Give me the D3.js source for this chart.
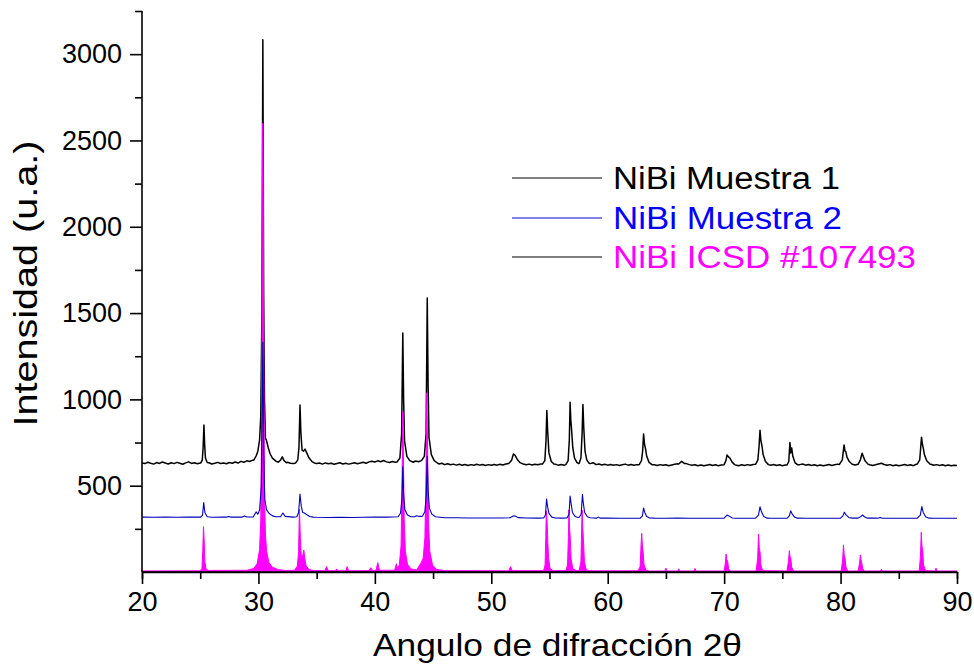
<!DOCTYPE html>
<html><head><meta charset="utf-8">
<script src="https://cdn.jsdelivr.net/npm/d3@7"></script>
<style>
body{margin:0;background:#fff}
svg{display:block}
text{font-family:"Liberation Sans",Arial,Helvetica,sans-serif}
</style>
</head><body><svg id="c" width="974" height="666"></svg>
<script>
// ---------------- DATA ----------------
const xTicks = [20,30,40,50,60,70,80,90];
const xMinor = [25,35,45,55,65,75,85];
const yTicks = [500,1000,1500,2000,2500,3000];
const yMinor = [250,750,1250,1750,2250,2750,3250];
const xLabel = "Angulo de difracción 2θ";
const yLabel = "Intensidad (u.a.)";
const seriesNames = ["NiBi Muestra 1","NiBi Muestra 2","NiBi ICSD #107493"];
const seriesColors = ["#000000","#0000ff","#ff00ff"];
const legendLineColors = ["#000000","#0000cc","#000000"];

// Muestra 1: background read every 0.25° from 20° to 90°
const m1Start = 20, m1Step = 0.25;
const m1Base = [
632,628,636,630,625,634,629,637,631,626,633,628,635,630,624,632,638,629,633,627,
631,636,628,633,626,630,635,629,632,627,634,630,637,631,641,636,644,640,648,655,665,
700,700,720,678,660,645,640,650,655,636,630,628,640,700,720,705,670,645,634,628,
631,625,632,627,630,624,629,633,626,630,625,629,633,627,631,636,630,638,642,637,
644,639,646,638,634,640,636,650,700,700,660,640,636,643,639,655,700,700,680,640,
630,626,630,622,627,621,625,619,624,618,623,617,622,618,624,619,623,617,622,618,
623,619,624,620,626,632,650,685,660,635,626,621,625,620,624,621,626,640,900,680,
633,624,619,623,618,635,950,760,640,630,700,900,650,628,633,622,626,620,624,619,
623,618,622,617,621,625,619,623,618,622,630,700,760,640,626,621,617,622,618,621,
616,620,624,627,633,636,628,622,618,621,616,620,615,619,623,617,621,616,620,624,
660,665,632,620,616,621,617,622,618,623,630,760,740,640,624,619,623,617,621,616,
620,628,740,700,632,622,626,619,623,617,621,616,620,615,619,623,617,621,625,630,
700,690,640,625,620,624,660,670,630,621,617,621,626,630,623,618,622,616,620,615,
619,623,617,621,616,624,640,760,700,640,624,618,622,617,621,616,620,615,619,617
];
// Muestra 1: peak profiles [2θ, intensity]
const m1Peaks = [
 [[25.05,632],[25.18,650],[25.25,720],[25.32,852],[25.38,740],[25.45,660],[25.6,634]],
 [[29.6,648],[29.8,672],[29.95,700],[30.1,765],[30.2,900],[30.3,1500],[30.38,3084],[30.45,1600],[30.52,1000],[30.6,777],[30.7,760],[30.85,719],[31.0,685],[31.2,660],[31.5,642],[31.7,636],[31.9,648],[32.05,667],[32.2,645],[32.4,633]],
 [[33.2,632],[33.38,650],[33.48,720],[33.57,968],[33.65,800],[33.75,705],[33.88,700],[34.0,712],[34.15,690],[34.35,660],[34.6,640],[34.8,632]],
 [[41.9,637],[42.15,660],[42.3,800],[42.4,1385],[42.47,1000],[42.55,760],[42.75,670],[43.0,645],[43.3,636]],
 [[44.0,645],[44.25,670],[44.4,800],[44.5,1588],[44.57,1100],[44.65,780],[44.85,680],[45.1,645],[45.4,630]],
 [[51.5,628],[51.75,648],[51.9,684],[52.05,676],[52.25,650],[52.5,632]],
 [[54.4,626],[54.6,645],[54.7,760],[54.77,935],[54.84,820],[54.95,690],[55.15,640],[55.4,625]],
 [[56.4,622],[56.6,645],[56.7,760],[56.77,983],[56.83,880],[56.9,823],[57.0,720],[57.15,660],[57.35,635],[57.5,628]],
 [[57.55,630],[57.7,660],[57.8,800],[57.87,970],[57.94,840],[58.05,700],[58.2,650],[58.4,630]],
 [[62.7,622],[62.9,645],[63.0,700],[63.08,800],[63.16,740],[63.25,713],[63.35,670],[63.55,635],[63.8,622]],
 [[66.1,626],[66.35,641],[66.6,628]],
 [[70.0,622],[70.15,645],[70.25,678],[70.35,668],[70.5,660],[70.7,635],[70.9,622]],
 [[72.7,624],[72.9,650],[73.0,730],[73.08,821],[73.16,760],[73.25,730],[73.35,680],[73.55,640],[73.8,622]],
 [[75.4,620],[75.55,640],[75.65,750],[75.72,690],[75.8,719],[75.9,670],[76.1,632],[76.3,622]],
 [[79.9,623],[80.15,650],[80.3,736],[80.38,700],[80.45,697],[80.55,665],[80.75,640],[81.0,624]],
 [[81.5,624],[81.7,650],[81.85,688],[81.95,670],[82.1,645],[82.35,625]],
 [[86.6,626],[86.8,650],[86.95,781],[87.03,740],[87.1,719],[87.2,680],[87.4,645],[87.7,624]]
];

// Muestra 2: background read every 1° from 20° to 90°
const m2Start = 20, m2Step = 1;
const m2Base = [
318,317,318,317,318,318,317,318,318,319,325,322,320,318,325,317,316,317,316,317,
318,318,322,318,322,316,314,314,313,313,313,313,318,313,312,318,312,320,320,312,
312,311,311,314,312,311,312,311,311,311,312,311,311,314,311,311,313,311,311,311,
312,312,312,312,311,311,311,313,311,311,311
];
const m2Peaks = [
 [[25.05,318],[25.2,330],[25.3,402],[25.4,345],[25.6,320]],
 [[27.3,318],[27.45,322],[27.6,318]],
 [[28.6,318],[28.8,325],[29.0,319]],
 [[29.55,319],[29.8,348],[29.95,335],[30.1,360],[30.25,500],[30.38,1330],[30.45,700],[30.55,420],[30.7,360],[30.9,340],[31.2,325],[31.5,320]],
 [[31.9,320],[32.1,342],[32.3,322]],
 [[33.3,320],[33.45,345],[33.57,452],[33.68,380],[33.8,345],[33.95,342],[34.1,335],[34.4,322],[34.7,318]],
 [[42.0,320],[42.2,340],[42.32,420],[42.4,610],[42.47,450],[42.58,360],[42.8,330],[43.1,320]],
 [[43.4,320],[43.6,326],[43.8,322]],
 [[44.1,325],[44.3,350],[44.42,450],[44.5,670],[44.57,480],[44.68,370],[44.9,335],[45.2,320]],
 [[51.6,314],[51.9,325],[52.05,324],[52.3,315]],
 [[54.5,313],[54.65,330],[54.75,423],[54.83,380],[54.95,340],[55.2,318],[55.5,313]],
 [[56.5,313],[56.68,335],[56.77,440],[56.85,400],[56.97,345],[57.2,322],[57.45,316]],
 [[57.55,317],[57.72,335],[57.83,450],[57.9,400],[58.02,345],[58.25,320],[58.5,314]],
 [[59.05,312],[59.2,318],[59.35,312]],
 [[62.8,312],[62.98,325],[63.08,371],[63.18,345],[63.35,322],[63.6,313]],
 [[70.0,312],[70.25,330],[70.4,325],[70.7,313]],
 [[72.7,312],[72.95,330],[73.08,378],[73.2,350],[73.4,322],[73.7,312]],
 [[75.4,311],[75.6,325],[75.72,354],[75.85,335],[76.05,318],[76.3,312]],
 [[80.0,312],[80.2,325],[80.33,346],[80.45,332],[80.7,316],[81.0,312]],
 [[81.5,312],[81.75,322],[81.88,330],[82.05,320],[82.3,312]],
 [[83.2,311],[83.4,316],[83.6,311]],
 [[86.6,312],[86.85,330],[86.98,379],[87.1,345],[87.3,320],[87.6,312]]
];

// ICSD #107493 reference pattern [2θ, intensity]
const icsd = [
 [20,6],[25.0,7],[25.15,20],[25.22,120],[25.28,263],[25.33,200],[25.4,60],[25.5,18],[25.7,9],
 [29.0,10],[29.6,20],[29.9,50],[30.1,130],[30.2,300],[30.28,900],[30.33,2000],[30.37,2600],[30.41,2300],[30.46,1200],[30.52,450],[30.6,220],[30.7,120],[30.9,55],[31.2,28],[31.7,14],[32.3,9],
 [33.1,10],[33.35,35],[33.45,120],[33.52,365],[33.6,200],[33.7,70],[33.82,100],[33.9,127],[33.98,80],[34.1,35],[34.35,14],[34.7,9],
 [35.7,8],[35.85,31],[36.0,8],[36.6,7],[36.72,18],[36.85,7],[37.5,7],[37.62,31],[37.75,7],
 [39.5,8],[39.65,25],[39.8,8],[40.1,10],[40.25,54],[40.4,10],[41.7,10],[41.85,48],[41.95,20],
 [42.1,40],[42.25,150],[42.33,500],[42.4,929],[42.45,700],[42.52,300],[42.62,120],[42.8,45],[43.1,18],[43.6,12],[43.85,40],[43.95,50],
 [44.15,80],[44.3,200],[44.4,600],[44.47,1038],[44.53,700],[44.6,300],[44.72,120],[44.95,40],[45.3,15],[46,8],
 [51.5,7],[51.65,31],[51.8,8],
 [54.5,8],[54.62,40],[54.68,200],[54.73,355],[54.79,300],[54.85,185],[54.92,80],[55.05,20],[55.3,8],
 [56.4,8],[56.55,40],[56.62,200],[56.67,360],[56.73,250],[56.78,197],[56.85,80],[57.0,20],[57.3,8],
 [57.55,9],[57.7,60],[57.76,250],[57.8,360],[57.86,250],[57.92,180],[58.0,60],[58.15,15],[58.4,7],
 [62.6,7],[62.78,30],[62.86,150],[62.92,224],[62.98,150],[63.04,118],[63.12,40],[63.3,10],[63.6,6],
 [64.9,6],[65.0,22],[65.1,6],[66.0,6],[66.1,18],[66.2,6],[67.4,6],[67.5,20],[67.6,6],
 [70.0,6],[70.1,50],[70.17,104],[70.23,70],[70.3,65],[70.38,20],[70.5,6],
 [72.75,6],[72.88,80],[72.95,220],[73.02,140],[73.08,118],[73.16,40],[73.3,8],
 [75.4,6],[75.52,60],[75.6,123],[75.66,90],[75.72,83],[75.8,30],[75.95,6],
 [80.05,6],[80.18,70],[80.25,157],[80.31,100],[80.38,83],[80.46,30],[80.6,6],
 [81.5,6],[81.63,50],[81.7,99],[81.76,70],[81.82,54],[81.9,20],[82.05,6],
 [83.4,6],[83.5,15],[83.6,6],
 [86.75,6],[86.86,90],[86.93,230],[86.99,150],[87.05,128],[87.13,40],[87.3,8],
 [88.1,6],[88.2,22],[88.3,6],[90,6]
];

// ---------------- BUILD ----------------
function merge(start, step, base, peaks){
  const pts = base.map((v,i)=>[start+i*step, v]);
  const ranges = peaks.map(p=>[p[0][0], p[p.length-1][0]]);
  const kept = pts.filter(p=>!ranges.some(r=>p[0]>=r[0]-1e-9 && p[0]<=r[1]+1e-9));
  return kept.concat(...peaks).sort((a,b)=>a[0]-b[0]);
}
const muestra1 = merge(m1Start, m1Step, m1Base, m1Peaks);
const muestra2 = merge(m2Start, m2Step, m2Base, m2Peaks);

const svg = d3.select("#c");
const L = 142, R = 957, T = 11, B = 572;
const x = d3.scaleLinear().domain([20,90]).range([L,R]);
const y = d3.scaleLinear().domain([0,3250]).range([B,T]);

const line = d3.line().x(d=>x(d[0])).y(d=>y(d[1]));
const area = d3.area().x(d=>x(d[0])).y0(y(0)).y1(d=>y(d[1]));

svg.append("path").datum(muestra1).attr("d", line)
  .attr("fill","none").attr("stroke",seriesColors[0]).attr("stroke-width",1.5).attr("stroke-linejoin","round");
svg.append("path").datum(icsd).attr("d", area)
  .attr("fill",seriesColors[2]).attr("stroke",seriesColors[2]).attr("stroke-width",1);
svg.append("path").datum(muestra2).attr("d", line)
  .attr("fill","none").attr("stroke","#0000bb").attr("stroke-width",1.1).attr("stroke-linejoin","round");

// axes
const gx = svg.append("g").attr("transform",`translate(0,${B})`);
gx.call(d3.axisBottom(x).tickValues(xTicks).tickSize(12).tickSizeOuter(0).tickPadding(8).tickFormat(d3.format("d")));
gx.append("g").call(d3.axisBottom(x).tickValues(xMinor).tickSize(7).tickFormat(""));
gx.selectAll(".domain").attr("stroke","#000").attr("stroke-width",1.6);
gx.selectAll(".tick line").attr("stroke","#000").attr("stroke-width",1.6);
gx.selectAll("text").attr("font-size",27).attr("fill","#000").attr("font-family",'"Liberation Sans",Arial,sans-serif');
gx.select(".domain").attr("d",`M${L},0H${R}`);

const gy = svg.append("g").attr("transform",`translate(${L},0)`);
gy.call(d3.axisLeft(y).tickValues(yTicks).tickSize(12).tickSizeOuter(0).tickPadding(8).tickFormat(d3.format("d")));
gy.append("g").call(d3.axisLeft(y).tickValues(yMinor).tickSize(7).tickFormat(""));
gy.selectAll(".domain").attr("stroke","#000").attr("stroke-width",1.6);
gy.selectAll(".tick line").attr("stroke","#000").attr("stroke-width",1.6);
gy.selectAll("text").attr("font-size",27).attr("fill","#000").attr("font-family",'"Liberation Sans",Arial,sans-serif');
gy.selectAll(".domain").filter((d,i)=>i>0).remove();
gy.select(".domain").attr("d",`M0,${T}V${B}`);

// axis titles
svg.append("text").attr("x",(373+742)/2).attr("y",656).attr("text-anchor","middle")
  .attr("font-size",32).attr("textLength",369).attr("lengthAdjust","spacingAndGlyphs").text(xLabel);
svg.append("text").attr("transform",`translate(37,${(140+427)/2}) rotate(-90)`).attr("text-anchor","middle")
  .attr("font-size",33).attr("textLength",286).attr("lengthAdjust","spacingAndGlyphs").text(yLabel);

// legend
const legendY = [178,218,257];
const legendW = [227,229,303];
seriesNames.forEach((n,i)=>{
  svg.append("line").attr("x1",512).attr("x2",602).attr("y1",legendY[i]).attr("y2",legendY[i])
    .attr("stroke",legendLineColors[i]).attr("stroke-width",1);
  svg.append("text").attr("x",613).attr("y",legendY[i]+11).attr("font-size",31)
    .attr("fill",seriesColors[i]).attr("textLength",legendW[i]).attr("lengthAdjust","spacingAndGlyphs").text(n);
});
</script></body></html>
